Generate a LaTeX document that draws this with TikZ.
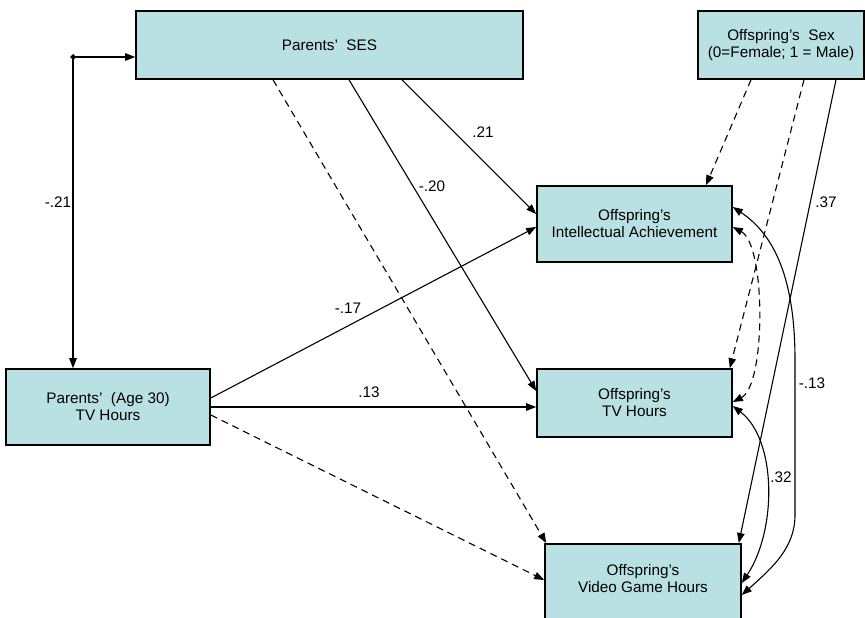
\documentclass[tikz,border=0pt]{standalone}
\usepackage{fontspec}
\setmainfont{Liberation Sans}
\usetikzlibrary{arrows.meta}
\definecolor{boxfill}{RGB}{185,224,227}
\tikzset{
  box/.style={draw=black, line width=1.6pt, fill=boxfill, inner sep=0pt, align=center, font=\fontsize{15.3}{17}\selectfont},
  lbl/.style={font=\fontsize{15.3}{17}\selectfont, inner sep=1pt},
  con/.style={line width=1.1pt, -{Triangle[length=10pt,width=7.5pt]}},
  bicon/.style={line width=1.1pt, {Triangle[length=10pt,width=7.5pt]}-{Triangle[length=10pt,width=7.5pt]}},
  dsh/.style={dash pattern=on 7pt off 5pt}
}
\begin{document}
\begin{tikzpicture}[x=1pt,y=-1pt]
\useasboundingbox (0,0) rectangle (865,618);
\clip (0,0) rectangle (865,618);
% boxes
\node[box, minimum width=387pt, minimum height=68pt] (ses) at (329.5,45) {Parents’\ \ SES};
\node[box, minimum width=166pt, minimum height=68pt] (sex) at (781,45) {Offspring’s\ \ Sex\\(0=Female; 1 = Male)};
\node[box, minimum width=195pt, minimum height=76pt] (intel) at (634.5,224) {Offspring’s\\Intellectual Achievement};
\node[box, minimum width=195pt, minimum height=68pt] (tv) at (634.5,403) {Offspring’s\\TV Hours};
\node[box, minimum width=204pt, minimum height=76pt] (ptv) at (108,407) {Parents’\ \ (Age 30)\\TV Hours};
\node[box, minimum width=196pt, minimum height=120pt, anchor=north] (vid) at (643,543) {};
\node[lbl, align=center] (vidtext) at (643,579) {Offspring’s\\Video Game Hours};
% correlation between parents' SES and parents' TV
\coordinate (cdot) at (73,57);
\fill (cdot) +(-3,0) -- +(0,-3) -- +(3,0) -- +(0,3) -- cycle;
\draw[con] (cdot) -- (cdot -| ses.west);
\draw[con] (cdot) -- (cdot |- ptv.north);
\node[lbl] (l1) at (58,202) {-.21};
% paths from SES
\draw[con] ([xshift=72.5pt]ses.south) -- ([yshift=10pt]intel.west);
\draw[con] ([xshift=19.5pt]ses.south) -- ([yshift=12pt]tv.west);
\draw[con,dsh] ([xshift=-56.5pt]ses.south) -- ([xshift=2pt]vid.north west);
\node[lbl] (l2) at (483,132) {.21};
\node[lbl] (l3) at (432,186) {-.20};
% paths from parents' TV
\draw[con] ([yshift=9pt]ptv.east) -- ([yshift=-3pt]intel.west);
\draw[con] (ptv.east) -- ([yshift=-4pt]tv.west);
\draw[con,dsh] ([yshift=-8pt]ptv.east) -- ([yshift=-37pt]vid.north west);
\node[lbl] (l4) at (348,308) {-.17};
\node[lbl] (l5) at (369,392) {.13};
% paths from sex
\draw[con,dsh] ([xshift=-30pt]sex.south) -- ([xshift=71.5pt]intel.north);
\draw[con,dsh] ([xshift=23pt]sex.south) -- ([xshift=-3pt]tv.north east);
\draw[con] ([xshift=55pt]sex.south) -- ([xshift=-3pt]vid.north east);
\node[lbl] (l6) at (826,202) {.37};
% residual correlations
\draw[bicon] ([yshift=17pt]intel.east) .. controls (775,235) and (795,280) .. (795,360)
   -- (795,515) .. controls (795,548) and (772,568) .. ([yshift=-52pt]vid.north east);
\draw[bicon,dsh] ([yshift=-3pt]intel.east) .. controls (766,245) and (766,385) .. ([yshift=1pt]tv.east);
\draw[bicon] ([yshift=-3pt]tv.east) .. controls (777,440) and (777,530) .. ([yshift=-40pt]vid.north east);
\node[lbl] (l7) at (812,383) {-.13};
\node[lbl] (l8) at (781,477) {.32};
\end{tikzpicture}
\end{document}
